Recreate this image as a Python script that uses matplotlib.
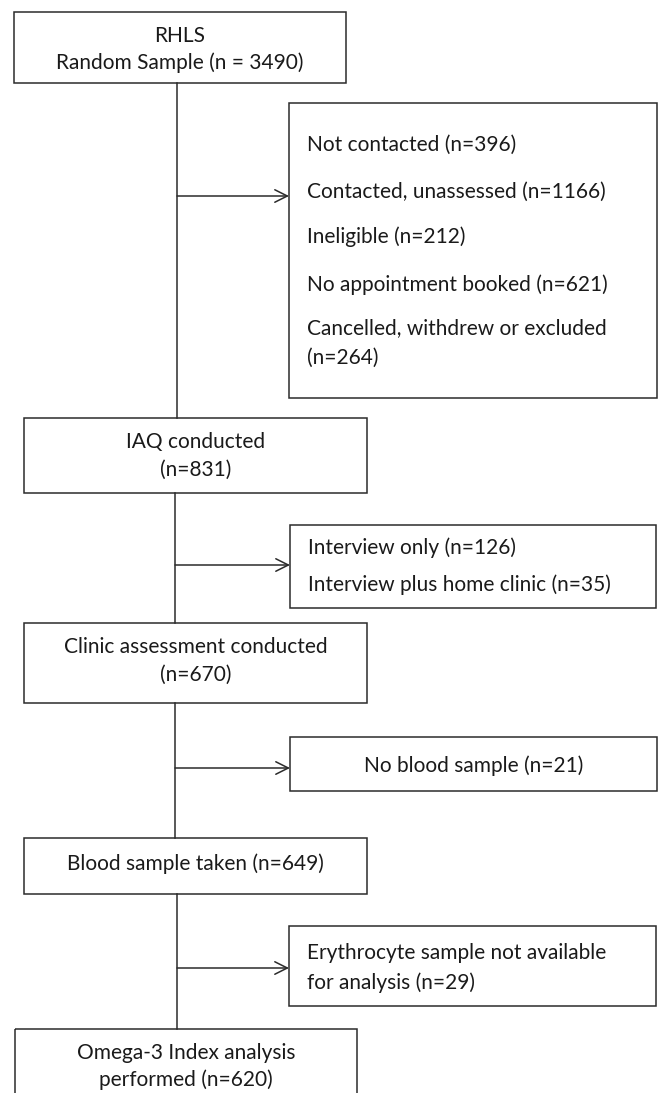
import matplotlib
matplotlib.use("Agg")
import matplotlib.pyplot as plt
from matplotlib.patches import Rectangle

# --- flow content ---
main_lines = [
    ["RHLS", "Random Sample (n = 3490)"],
    ["IAQ conducted", "(n=831)"],
    ["Clinic assessment conducted", "(n=670)"],
    ["Blood sample taken (n=649)"],
    ["Omega-3 Index analysis", "performed (n=620)"],
]
excluded_lines = [
    ["Not contacted (n=396)", "Contacted, unassessed (n=1166)", "Ineligible (n=212)",
     "No appointment booked (n=621)", "Cancelled, withdrew or excluded\n(n=264)"],
    ["Interview only (n=126)", "Interview plus home clinic (n=35)"],
    ["No blood sample (n=21)"],
    ["Erythrocyte sample not available\nfor analysis (n=29)"],
]

# --- layout (pixel units, y downwards) ---
main_boxes = [(14, 12, 346, 83), (24, 418, 367, 493), (24, 623, 367, 703),
              (24, 838, 367, 894), (15, 1029, 357, 1100)]
main_text_y = [[36, 63], [442, 470], [647, 675], [864], [1053, 1080]]
conn_x = [177, 175, 175, 177]
side_boxes = [(289, 103, 657, 398), (290, 525, 656, 608),
              (290, 737, 657, 791), (289, 926, 656, 1006)]
arrow_y = [196, 565, 768, 968]
side_text_y = [[145, 192, 237, 285, 343], [548, 585], [766], [968]]
side_align = ["left", "left", "center", "left"]

LC = "#2b2b2b"
TC = "#1a1a1a"
FONT = "Lato"
FS = 15

fig = plt.figure(figsize=(6.58, 10.93), dpi=100)
ax = fig.add_axes([0, 0, 1, 1])
ax.set_xlim(0, 658)
ax.set_ylim(1093, 0)
ax.axis("off")

for (x0, y0, x1, y1), lines, ys in zip(main_boxes, main_lines, main_text_y):
    ax.add_patch(Rectangle((x0, y0), x1 - x0, y1 - y0, fill=False, ec=LC, lw=1.1))
    cx = (x0 + x1) / 2
    for t, yy in zip(lines, ys):
        ax.text(cx, yy, t, ha="center", va="center", fontsize=FS, family=FONT, color=TC)

# vertical connectors
for i, x in enumerate(conn_x):
    ax.plot([x, x], [main_boxes[i][3], main_boxes[i + 1][1]], color=LC, lw=1.1)

# side boxes + arrows
for i, ((x0, y0, x1, y1), lines) in enumerate(zip(side_boxes, excluded_lines)):
    ax.add_patch(Rectangle((x0, y0), x1 - x0, y1 - y0, fill=False, ec=LC, lw=1.1))
    ax.annotate("", xy=(x0, arrow_y[i]), xytext=(conn_x[i], arrow_y[i]),
                arrowprops=dict(arrowstyle="->,head_length=0.9,head_width=0.45",
                                color=LC, lw=1.1, shrinkA=0, shrinkB=0))
    for t, yy in zip(lines, side_text_y[i]):
        if side_align[i] == "left":
            ax.text(x0 + 18, yy, t, ha="left", va="center", fontsize=FS, family=FONT,
                    color=TC, linespacing=1.6)
        else:
            ax.text((x0 + x1) / 2, yy, t, ha="center", va="center", fontsize=FS,
                    family=FONT, color=TC)

fig.savefig("out.png", dpi=100)
